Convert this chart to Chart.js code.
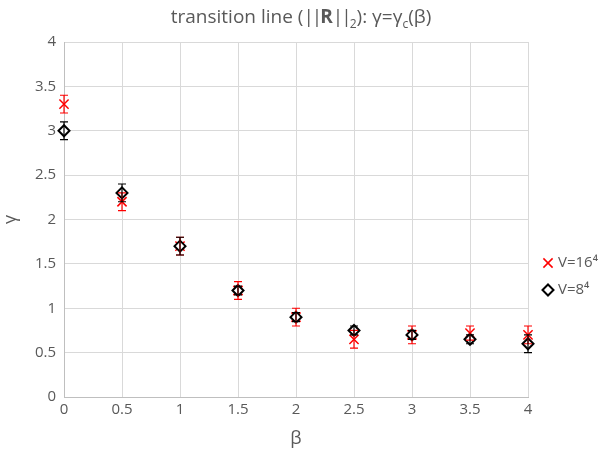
<!DOCTYPE html>
<html>
<head>
<meta charset="utf-8">
<script src="https://cdn.jsdelivr.net/npm/chart.js@4"></script>
<style>
  body { margin: 0; background: #fff; }
  #wrap { position: relative; width: 602px; height: 454px; }
  #title {
    position: absolute; left: 0; top: 3px; width: 602px; text-align: center;
    font-family: 'Open Sans', sans-serif; font-size: 19px; color: #595959;
  }
  #title sub { font-size: 12px; line-height: 0; }
  #title .bar { letter-spacing: -2px; }
</style>
</head>
<body>
<div id="wrap">
  <div id="title">transition line (<span class="bar">||</span><b>R</b><span class="bar">||</span><sub>2</sub>): γ=γ<sub>c</sub>(β)</div>
  <canvas id="chart" width="602" height="454"></canvas>
</div>
<script>
// beta values shared by both series
const betas = [0, 0.5, 1, 1.5, 2, 2.5, 3, 3.5, 4];

// V=16^4
const gammaV16 = [3.3, 2.2, 1.7, 1.2, 0.9, 0.65, 0.7, 0.72, 0.7];
const errV16   = [0.1, 0.1, 0.1, 0.1, 0.1, 0.1, 0.1, 0.08, 0.1];

// V=8^4
const gammaV8 = [3.0, 2.3, 1.7, 1.2, 0.9, 0.75, 0.7, 0.65, 0.6];
const errV8   = [0.1, 0.1, 0.1, 0.05, 0.05, 0.05, 0.05, 0.05, 0.1];

const seriesNames = ['V=16⁴', 'V=8⁴'];

const grey = '#595959';
const fontFamily = "'Open Sans', sans-serif";

function toPoints(ys, errs) {
    return betas.map((b, i) => ({ x: b, y: ys[i], err: errs[i] }));
}

// draws vertical error bars with caps from each point's err value
const errorBars = {
    id: 'errorBars',
    afterDatasetsDraw(chart) {
        const ctx = chart.ctx;
        const xs = chart.scales.x, ys = chart.scales.y;
        [0, 1].forEach(di => {
            const ds = chart.data.datasets[di];
            ctx.save();
            ctx.strokeStyle = ds.borderColor;
            ctx.lineWidth = 1.2;
            ds.data.forEach(p => {
                const px = xs.getPixelForValue(p.x);
                const top = ys.getPixelForValue(p.y + p.err);
                const bot = ys.getPixelForValue(p.y - p.err);
                ctx.beginPath();
                ctx.moveTo(px, top); ctx.lineTo(px, bot);
                ctx.moveTo(px - 4, top); ctx.lineTo(px + 4, top);
                ctx.moveTo(px - 4, bot); ctx.lineTo(px + 4, bot);
                ctx.stroke();
            });
            ctx.restore();
        });
    }
};

// legend drawn in the right margin, a bit below center like the original
const sideLegend = {
    id: 'sideLegend',
    afterDraw(chart) {
        const ctx = chart.ctx;
        const ys = [263, 290];
        ctx.save();
        ctx.font = '15px ' + fontFamily;
        ctx.textBaseline = 'middle';
        chart.data.datasets.forEach((ds, i) => {
            ctx.strokeStyle = ds.borderColor;
            ctx.fillStyle = ds.pointBackgroundColor;
            ctx.lineWidth = ds.pointBorderWidth;
            Chart.helpers.drawPoint(ctx, {
                pointStyle: ds.pointStyle,
                radius: ds.pointRadius,
                borderWidth: ds.pointBorderWidth
            }, 548, ys[i]);
            ctx.fillStyle = grey;
            ctx.fillText(seriesNames[i], 558, ys[i]);
        });
        ctx.restore();
    }
};

const tickFmt = v => String(Math.round(v * 10) / 10);

new Chart(document.getElementById('chart'), {
    type: 'scatter',
    data: {
        datasets: [{
            label: seriesNames[0],
            data: toPoints(gammaV16, errV16),
            pointStyle: 'crossRot',
            pointRadius: 6.5,
            pointHoverRadius: 6.5,
            pointBorderWidth: 1.5,
            borderColor: '#ff0000',
            pointBackgroundColor: '#ff0000',
            clip: false,
            order: 2
        }, {
            label: seriesNames[1],
            data: toPoints(gammaV8, errV8),
            pointStyle: 'rectRot',
            pointRadius: 5.5,
            pointHoverRadius: 5.5,
            pointBorderWidth: 2,
            borderColor: '#000000',
            pointBackgroundColor: '#ffffff',
            clip: false,
            order: 1
        }]
    },
    options: {
        responsive: false,
        animation: false,
        layout: { padding: { top: 42, right: 74, left: 0, bottom: 0 } },
        plugins: {
            legend: { display: false },
            tooltip: { enabled: false }
        },
        scales: {
            x: {
                type: 'linear',
                min: 0, max: 4,
                ticks: { stepSize: 0.5, color: grey, font: { size: 15, family: fontFamily }, padding: 4, callback: tickFmt },
                grid: { color: '#d9d9d9', drawTicks: false },
                border: { color: '#bfbfbf' },
                title: { display: true, text: 'β', color: grey, font: { size: 18, family: fontFamily } },
                afterFit(s) { s.height = 57; }
            },
            y: {
                min: 0, max: 4,
                ticks: { stepSize: 0.5, color: grey, font: { size: 15, family: fontFamily }, padding: 8, callback: tickFmt },
                grid: { color: '#d9d9d9', drawTicks: false },
                border: { color: '#bfbfbf' },
                title: { display: true, text: 'γ', color: grey, font: { size: 18, family: fontFamily }, padding: { top: 0, bottom: 10 } },
                afterFit(s) { s.width = 64; }
            }
        }
    },
    plugins: [errorBars, sideLegend]
});
</script>
</body>
</html>
